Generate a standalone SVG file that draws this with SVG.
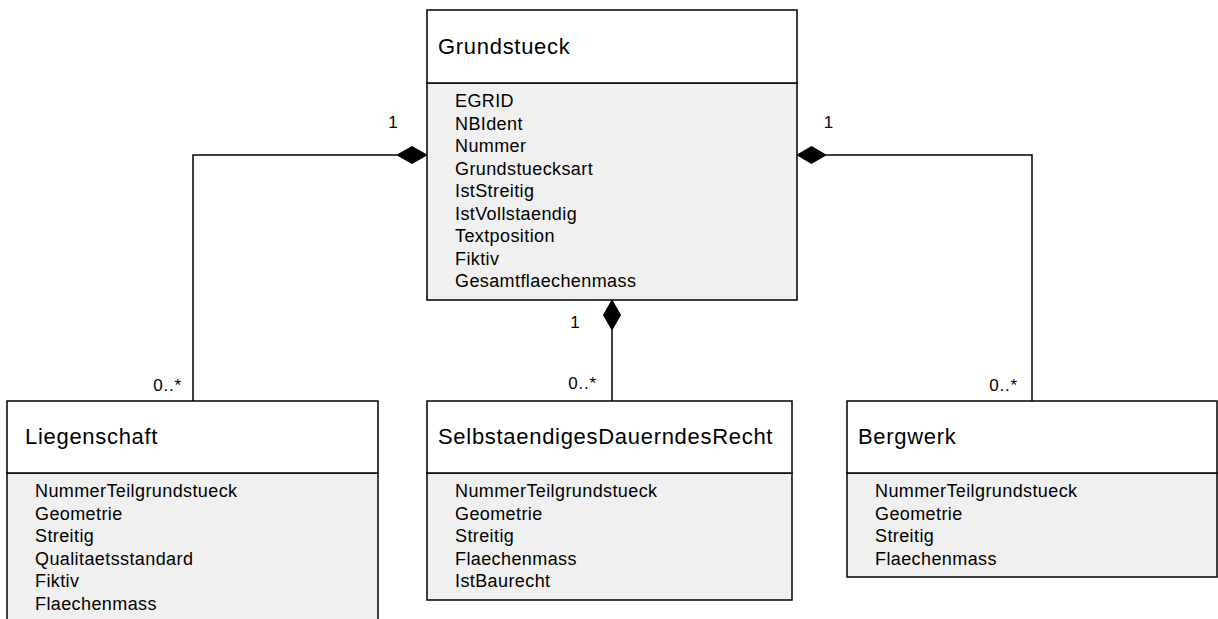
<svg xmlns="http://www.w3.org/2000/svg" width="1218" height="619" viewBox="0 0 1218 619">
<style>
.hdr{fill:#ffffff;stroke:#000;stroke-width:1.5}
.att{fill:#f0f0f0;stroke:#000;stroke-width:1.5}
.title{font-family:"Liberation Sans",Arial,sans-serif;font-size:22px;letter-spacing:0.7px;fill:#000}
.attr{font-family:"Liberation Sans",Arial,sans-serif;font-size:18px;letter-spacing:0.4px;fill:#000}
.mult{font-family:"Liberation Sans",Arial,sans-serif;font-size:17px;letter-spacing:0.8px;fill:#000}
.line{fill:none;stroke:#000;stroke-width:1.5}
.dia{fill:#000;stroke:#000;stroke-width:1}
</style>
<rect width="1218" height="619" fill="#ffffff"/>
<g id="connectors">
<polyline class="line" points="397,155 193,155 193,401"/>
<polygon class="dia" points="427,155 412,146.5 397,155 412,163.5"/>
<text class="mult" x="393.5" y="128" text-anchor="middle">1</text>
<text class="mult" x="182" y="391" text-anchor="end">0..*</text>
<polyline class="line" points="612,330 612,401"/>
<polygon class="dia" points="612,300 603.5,315 612,330 620.5,315"/>
<text class="mult" x="575.5" y="328" text-anchor="middle">1</text>
<text class="mult" x="597" y="389" text-anchor="end">0..*</text>
<polyline class="line" points="826,155 1032,155 1032,401"/>
<polygon class="dia" points="797,155 811.5,146.5 826,155 811.5,163.5"/>
<text class="mult" x="829" y="128" text-anchor="middle">1</text>
<text class="mult" x="1018" y="391" text-anchor="end">0..*</text>
</g>
<g id="Grundstueck">
<rect class="att" x="427" y="83" width="370" height="217"/>
<rect class="hdr" x="427" y="10" width="370" height="73"/>
<text class="title" x="438" y="54">Grundstueck</text>
<text class="attr" x="455" y="107">EGRID</text>
<text class="attr" x="455" y="129.5">NBIdent</text>
<text class="attr" x="455" y="152">Nummer</text>
<text class="attr" x="455" y="174.5">Grundstuecksart</text>
<text class="attr" x="455" y="197">IstStreitig</text>
<text class="attr" x="455" y="219.5">IstVollstaendig</text>
<text class="attr" x="455" y="242">Textposition</text>
<text class="attr" x="455" y="264.5">Fiktiv</text>
<text class="attr" x="455" y="287">Gesamtflaechenmass</text>
</g>
<g id="Liegenschaft">
<rect class="att" x="7" y="473" width="371" height="160"/>
<rect class="hdr" x="7" y="401" width="371" height="72"/>
<text class="title" x="25" y="444">Liegenschaft</text>
<text class="attr" x="35" y="497">NummerTeilgrundstueck</text>
<text class="attr" x="35" y="519.5">Geometrie</text>
<text class="attr" x="35" y="542">Streitig</text>
<text class="attr" x="35" y="564.5">Qualitaetsstandard</text>
<text class="attr" x="35" y="587">Fiktiv</text>
<text class="attr" x="35" y="609.5">Flaechenmass</text>
</g>
<g id="SelbstaendigesDauerndesRecht">
<rect class="att" x="427" y="473" width="365" height="127"/>
<rect class="hdr" x="427" y="401" width="365" height="72"/>
<text class="title" x="438" y="444">SelbstaendigesDauerndesRecht</text>
<text class="attr" x="455" y="497">NummerTeilgrundstueck</text>
<text class="attr" x="455" y="519.5">Geometrie</text>
<text class="attr" x="455" y="542">Streitig</text>
<text class="attr" x="455" y="564.5">Flaechenmass</text>
<text class="attr" x="455" y="587">IstBaurecht</text>
</g>
<g id="Bergwerk">
<rect class="att" x="847" y="473" width="370" height="104"/>
<rect class="hdr" x="847" y="401" width="370" height="72"/>
<text class="title" x="858" y="444">Bergwerk</text>
<text class="attr" x="875" y="497">NummerTeilgrundstueck</text>
<text class="attr" x="875" y="519.5">Geometrie</text>
<text class="attr" x="875" y="542">Streitig</text>
<text class="attr" x="875" y="564.5">Flaechenmass</text>
</g>
</svg>
